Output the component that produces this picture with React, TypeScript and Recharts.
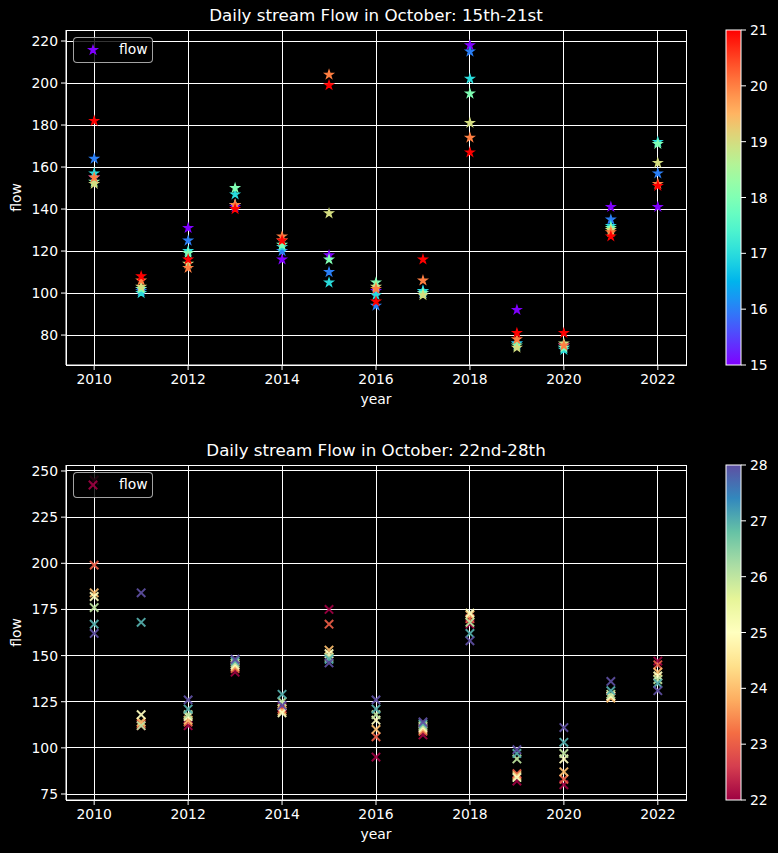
import React from "react";
import {
  ScatterChart,
  Scatter,
  XAxis,
  YAxis,
  CartesianGrid,
  ReferenceArea,
} from "recharts";

document.body.style.margin = "0";
document.body.style.background = "#000";
document.body.style.overflow = "hidden";

const FONT = "'DejaVu Sans', sans-serif";

// ---- data ----
const years = [2010, 2011, 2012, 2013, 2014, 2015, 2016, 2017, 2018, 2019, 2020, 2021, 2022];

const oct15 = [155, 102, 131, 141, 116, 118, 101, 100, 218, 92, 75, 141, 141];
const oct16 = [164, 101, 125, 142, 120, 110, 94, 101, 215, 76, 74, 135, 157];
const oct17 = [157, 100, 120, 147, 122, 105, 99, 101, 202, 76, 73, 132, 172];
const oct18 = [153, 102, 119, 150, 123, 116, 105, 100, 195, 75, 74, 131, 171];
const oct19 = [152, 103, 114, 142, 125, 138, 103, 99, 181, 74, 76, 130, 162];
const oct20 = [155, 106, 112, 142, 127, 204, 102, 106, 174, 78, 75, 129, 152];
const oct21 = [182, 108, 116, 140, 125, 199, 96, 116, 167, 81, 81, 127, 151];

const oct22 = [245, 112, 112, 141, 122, 175, 95, 107, 167, 82, 80, 128, 147];
const oct23 = [199, 113, 114, 143, 121, 167, 106, 109, 170, 86, 83, 128, 145];
const oct24 = [184, 114, 115, 144, 120, 153, 110, 110, 172, 85, 87, 127, 141];
const oct25 = [182, 118, 117, 145, 119, 151, 115, 111, 173, 84, 94, 128, 139];
const oct26 = [176, 112, 118, 146, 125, 149, 118, 112, 168, 94, 97, 129, 137];
const oct27 = [167, 168, 121, 147, 129, 148, 121, 113, 162, 97, 103, 131, 135];
const oct28 = [162, 184, 126, 148, 123, 146, 126, 114, 158, 99, 111, 136, 131];

const week1Days = [15, 16, 17, 18, 19, 20, 21];
const week1 = [oct15, oct16, oct17, oct18, oct19, oct20, oct21];
const week2Days = [22, 23, 24, 25, 26, 27, 28];
const week2 = [oct22, oct23, oct24, oct25, oct26, oct27, oct28];

const xTicks = [2010, 2012, 2014, 2016, 2018, 2020, 2022];
const yTicks1 = [80, 100, 120, 140, 160, 180, 200, 220];
const yTicks2 = [75, 100, 125, 150, 175, 200, 225, 250];
const cbTicks1 = [15, 16, 17, 18, 19, 20, 21];
const cbTicks2 = [22, 23, 24, 25, 26, 27, 28];

// ---- colormaps ----
const clamp = (v: number) => Math.max(0, Math.min(1, v));
const toHex = (r: number, g: number, b: number) =>
  "#" + [r, g, b].map((v) => Math.round(clamp(v) * 255).toString(16).padStart(2, "0")).join("");

function rainbow(t: number) {
  return toHex(Math.abs(2 * t - 0.5), Math.sin(Math.PI * t), Math.cos((Math.PI * t) / 2));
}

const spectralStops = [
  "9e0142", "d53e4f", "f46d43", "fdae61", "fee08b", "ffffbf",
  "e6f598", "abdda4", "66c2a5", "3288bd", "5e4fa2",
].map((h) => [0, 2, 4].map((i) => parseInt(h.slice(i, i + 2), 16) / 255));

function spectral(t: number) {
  const p = clamp(t) * (spectralStops.length - 1);
  const i = Math.min(Math.floor(p), spectralStops.length - 2);
  const f = p - i;
  const a = spectralStops[i];
  const b = spectralStops[i + 1];
  return toHex(a[0] + (b[0] - a[0]) * f, a[1] + (b[1] - a[1]) * f, a[2] + (b[2] - a[2]) * f);
}

type Row = { year: number; flow: number; day: number };

function buildRows(days: number[], series: number[][]): Row[] {
  const rows: Row[] = [];
  years.forEach((y, yi) => {
    days.forEach((d, di) => rows.push({ year: y, flow: series[di][yi], day: d }));
  });
  return rows;
}

function padDomain(rows: Row[]): [number, number] {
  const vals = rows.map((r) => r.flow);
  const lo = Math.min(...vals);
  const hi = Math.max(...vals);
  const m = (hi - lo) * 0.05;
  return [lo - m, hi + m];
}

// ---- markers ----
function starPath(cx: number, cy: number, R: number) {
  const r = R * 0.381966;
  let d = "";
  for (let i = 0; i < 10; i++) {
    const rad = i % 2 === 0 ? R : r;
    const a = -Math.PI / 2 + (i * Math.PI) / 5;
    d += (i === 0 ? "M" : "L") + (cx + rad * Math.cos(a)).toFixed(2) + "," + (cy + rad * Math.sin(a)).toFixed(2);
  }
  return d + "Z";
}

function StarMark({ cx, cy, color }: { cx: number; cy: number; color: string }) {
  return <path d={starPath(cx, cy, 4.4)} fill={color} stroke={color} strokeWidth={1.2} strokeLinejoin="miter" />;
}

function XMark({ cx, cy, color }: { cx: number; cy: number; color: string }) {
  const h = 4.2;
  return (
    <path
      d={`M${cx - h},${cy - h}L${cx + h},${cy + h}M${cx - h},${cy + h}L${cx + h},${cy - h}`}
      stroke={color}
      strokeWidth={2}
      fill="none"
      opacity={0.92}
    />
  );
}

// ---- panel ----
type PanelProps = {
  top: number;
  title: string;
  rows: Row[];
  yTicks: number[];
  cbTicks: number[];
  cmap: (t: number) => string;
  marker: "star" | "x";
};

const tickStyle = { fill: "#fff", fontSize: 13.9, fontFamily: FONT };

function Panel({ top, title, rows, yTicks, cbTicks, cmap, marker }: PanelProps) {
  const yDomain = padDomain(rows);
  const dMin = cbTicks[0];
  const dMax = cbTicks[cbTicks.length - 1];
  const colorOf = (d: number) => cmap((d - dMin) / (dMax - dMin));
  const gradId = `cb-${top}`;
  const cbTop = 30;
  const cbH = 335;

  const shape = (p: any) => {
    const c = colorOf(p.payload.day);
    return marker === "star" ? <StarMark cx={p.cx} cy={p.cy} color={c} /> : <XMark cx={p.cx} cy={p.cy} color={c} />;
  };

  return (
    <div style={{ position: "absolute", top, left: 0, width: 778, height: 415 }}>
      <ScatterChart width={700} height={415} margin={{ top: 30, right: 14, bottom: 0, left: 0 }}>
        <CartesianGrid stroke="#fff" strokeWidth={1} shapeRendering="crispEdges" />
        <XAxis
          type="number"
          dataKey="year"
          domain={[2009.4, 2022.6]}
          ticks={xTicks}
          height={50}
          tick={tickStyle}
          tickSize={5}
          tickMargin={4}
          stroke="#fff"
          allowDataOverflow
          label={{ value: "year", position: "insideBottom", offset: 11, fill: "#fff", fontSize: 13.9, fontFamily: FONT }}
        />
        <YAxis
          type="number"
          dataKey="flow"
          domain={yDomain}
          ticks={yTicks}
          width={66}
          tick={tickStyle}
          tickSize={5}
          tickMargin={3}
          stroke="#fff"
          allowDataOverflow
          label={(lp: any) => {
            const vb = lp.viewBox;
            const cy = vb.y + vb.height / 2;
            return (
              <text
                x={16}
                y={cy}
                transform={`rotate(-90 16 ${cy})`}
                textAnchor="middle"
                dominantBaseline="central"
                fill="#fff"
                fontSize={13.9}
                fontFamily={FONT}
              >
                flow
              </text>
            );
          }}
        />
        <Scatter data={rows} shape={shape} isAnimationActive={false} />
        <ReferenceArea
          x1={2009.4}
          x2={2022.6}
          y1={yDomain[0]}
          y2={yDomain[1]}
          fill="none"
          fillOpacity={0}
          stroke="#fff"
          strokeWidth={1}
          shapeRendering="crispEdges"
          ifOverflow="visible"
        />
      </ScatterChart>

      {/* title */}
      <div
        style={{
          position: "absolute",
          left: 66,
          width: 620,
          top: 5,
          textAlign: "center",
          color: "#fff",
          fontFamily: FONT,
          fontSize: 16.7,
          lineHeight: "20px",
        }}
      >
        {title}
      </div>

      {/* legend */}
      <div
        style={{
          position: "absolute",
          left: 73,
          top: 37,
          width: 80,
          height: 26,
          boxSizing: "border-box",
          border: "1px solid rgba(204,204,204,0.8)",
          borderRadius: 4,
          background: "rgba(0,0,0,0.8)",
          color: "#fff",
          fontFamily: FONT,
          fontSize: 13.9,
        }}
      >
        <svg width={30} height={24} style={{ position: "absolute", left: 4, top: 0 }}>
          {marker === "star" ? (
            <StarMark cx={15} cy={12} color={colorOf(rows[0].day)} />
          ) : (
            <XMark cx={15} cy={12} color={colorOf(rows[0].day)} />
          )}
        </svg>
        <span style={{ position: "absolute", left: 45, top: 3, lineHeight: "17px" }}>flow</span>
      </div>

      {/* colorbar */}
      <svg width={60} height={380} style={{ position: "absolute", left: 720, top: 0 }}>
        <defs>
          <linearGradient id={gradId} x1="0" y1="1" x2="0" y2="0">
            {Array.from({ length: 21 }, (_, i) => i / 20).map((t) => (
              <stop key={t} offset={t} stopColor={cmap(t)} />
            ))}
          </linearGradient>
        </defs>
        <rect x={6} y={cbTop} width={15} height={cbH} fill={`url(#${gradId})`} stroke="#fff" strokeWidth={1} />
        {cbTicks.map((t) => {
          const y = cbTop + cbH - ((t - dMin) / (dMax - dMin)) * cbH;
          return (
            <g key={t}>
              <line x1={21} x2={26} y1={y} y2={y} stroke="#fff" strokeWidth={1} />
              <text x={30} y={y} dominantBaseline="central" fill="#fff" fontSize={13.9} fontFamily={FONT}>
                {t}
              </text>
            </g>
          );
        })}
      </svg>
    </div>
  );
}

const rows1 = buildRows(week1Days, week1);
const rows2 = buildRows(week2Days, week2);

export default function App() {
  return (
    <div style={{ position: "relative", width: 778, height: 853, background: "#000", overflow: "hidden" }}>
      <Panel
        top={0}
        title="Daily stream Flow in October: 15th-21st"
        rows={rows1}
        yTicks={yTicks1}
        cbTicks={cbTicks1}
        cmap={rainbow}
        marker="star"
      />
      <Panel
        top={435}
        title="Daily stream Flow in October: 22nd-28th"
        rows={rows2}
        yTicks={yTicks2}
        cbTicks={cbTicks2}
        cmap={spectral}
        marker="x"
      />
    </div>
  );
}
